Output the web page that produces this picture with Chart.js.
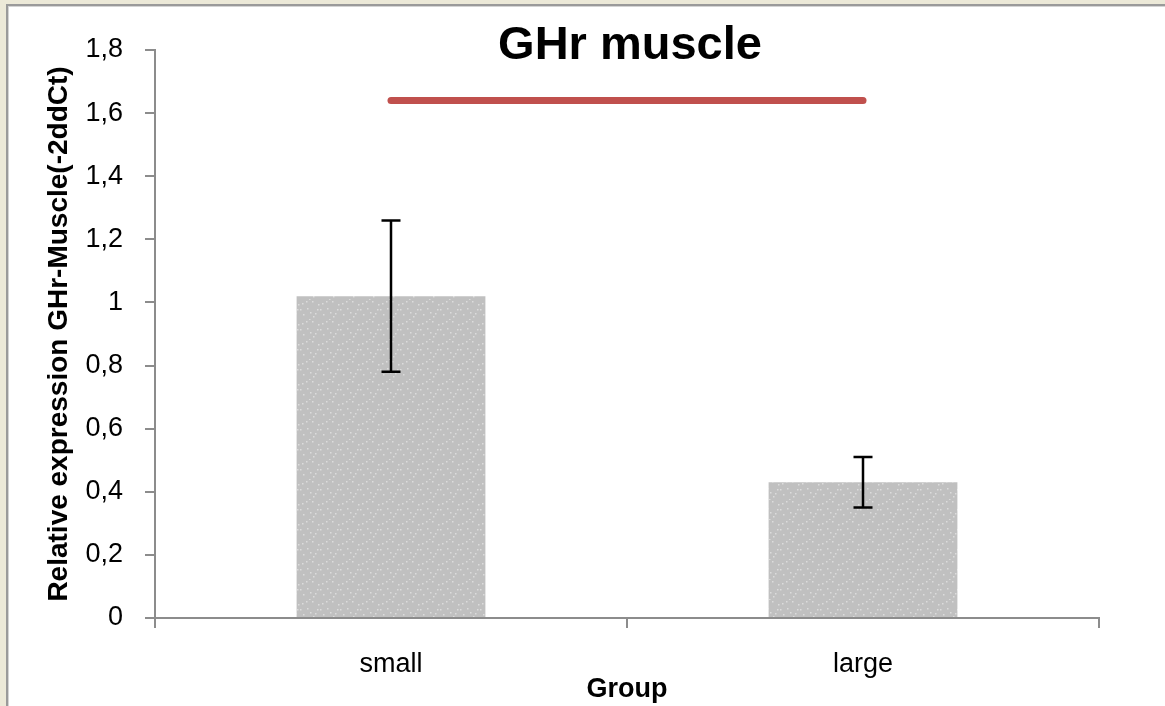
<!DOCTYPE html>
<html>
<head>
<meta charset="utf-8">
<script src="https://cdn.jsdelivr.net/npm/chart.js@4.4.1/dist/chart.umd.min.js"></script>
<style>
  html, body { margin: 0; padding: 0; background: #ECE9D8; width: 1165px; height: 706px; overflow: hidden; }
  #panel {
    position: absolute; left: 6px; top: 4px; width: 1200px; height: 740px;
    background: #fff; border-left: 2px solid #9A9A9A; border-top: 2px solid #9A9A9A;
    box-shadow: inset 1px 1px 0 #D4D4D4;
  }
  #chart { position: absolute; left: 0; top: 0; }
</style>
</head>
<body>
<div id="panel"></div>
<canvas id="chart" width="1165" height="706"></canvas>
<script>
// Relative GHr expression in muscle, per size group
const groups = ['small', 'large'];
const expression = [1.02, 0.43];
const errorHigh = [1.26, 0.51];
const errorLow = [0.78, 0.35];
// Bracket marking the significant difference between the groups
const significance = [1.64, 1.64];
const yTickLabels = ['0', '0,2', '0,4', '0,6', '0,8', '1', '1,2', '1,4', '1,6', '1,8'];

const FONT = '"Liberation Sans", Arial, sans-serif';
const AXIS_GREY = '#8C8C8C';

// Grey stippled fill for the bars
function stipple() {
  const c = document.createElement('canvas');
  c.width = 20; c.height = 20;
  const g = c.getContext('2d');
  g.fillStyle = '#C0C0C0';
  g.fillRect(0, 0, 20, 20);
  g.fillStyle = '#DCDCDC';
  [[2, 3], [12, 1], [7, 8], [17, 9], [3, 14], [13, 16], [9, 19], [18, 4], [6, 1], [15, 13], [0, 9], [10, 12]]
    .forEach(([x, y]) => g.fillRect(x, y, 1.5, 1.5));
  return g.createPattern(c, 'repeat');
}

const heading = {
  id: 'heading',
  afterDraw(chart) {
    const { ctx, chartArea } = chart;
    ctx.save();
    ctx.font = 'bold 47px ' + FONT;
    ctx.fillStyle = '#000';
    ctx.textAlign = 'center';
    ctx.textBaseline = 'alphabetic';
    ctx.fillText('GHr muscle', (chartArea.left + chartArea.right) / 2 + 3, 59);
    ctx.restore();
  }
};

const errorBars = {
  id: 'errorBars',
  afterDatasetsDraw(chart) {
    const { ctx } = chart;
    const y = chart.scales.y;
    const meta = chart.getDatasetMeta(0);
    ctx.save();
    ctx.strokeStyle = '#000';
    ctx.lineWidth = 2.5;
    meta.data.forEach((bar, i) => {
      const top = y.getPixelForValue(errorHigh[i]);
      const bottom = y.getPixelForValue(errorLow[i]);
      const x = bar.x;
      ctx.beginPath();
      ctx.moveTo(x, top); ctx.lineTo(x, bottom);
      ctx.moveTo(x - 9.5, top); ctx.lineTo(x + 9.5, top);
      ctx.moveTo(x - 9.5, bottom); ctx.lineTo(x + 9.5, bottom);
      ctx.stroke();
    });
    ctx.restore();
  }
};

Chart.defaults.font.family = FONT;

new Chart(document.getElementById('chart'), {
  type: 'bar',
  data: {
    labels: groups,
    datasets: [
      {
        data: expression,
        backgroundColor: stipple(),
        borderWidth: 0,
        barPercentage: 0.4,
        categoryPercentage: 1
      },
      {
        type: 'line',
        data: significance,
        borderColor: '#C0504D',
        borderWidth: 7,
        borderCapStyle: 'round',
        pointRadius: 0,
        fill: false
      }
    ]
  },
  options: {
    responsive: false,
    devicePixelRatio: 1,
    animation: false,
    layout: { padding: { left: 0, right: 66, top: 50, bottom: 0 } },
    plugins: { legend: { display: false }, tooltip: { enabled: false }, title: { display: false } },
    scales: {
      x: {
        offset: true,
        grid: { offset: true, drawOnChartArea: false, tickLength: 10, color: AXIS_GREY, lineWidth: 2 },
        border: { color: AXIS_GREY, width: 2 },
        ticks: { font: { size: 27 }, color: '#000', padding: 20 },
        title: {
          display: true, text: 'Group', color: '#000',
          font: { size: 27, weight: 'bold' }, padding: { top: 0, bottom: 0 }
        },
        afterFit(scale) { scale.height = 88; }
      },
      y: {
        min: 0, max: 1.8,
        grid: { drawOnChartArea: false, tickLength: 10, color: AXIS_GREY, lineWidth: 2 },
        border: { color: AXIS_GREY, width: 2 },
        ticks: {
          stepSize: 0.2, font: { size: 27 }, color: '#000', padding: 22,
          callback: (value) => yTickLabels[Math.round(value / 0.2)]
        },
        title: {
          display: true, text: 'Relative expression GHr-Muscle(-2ddCt)', color: '#000',
          font: { size: 28, weight: 'bold' }, padding: { top: 42, bottom: 0 }
        },
        afterFit(scale) { scale.width = 155; }
      }
    }
  },
  plugins: [heading, errorBars]
});
</script>
</body>
</html>
